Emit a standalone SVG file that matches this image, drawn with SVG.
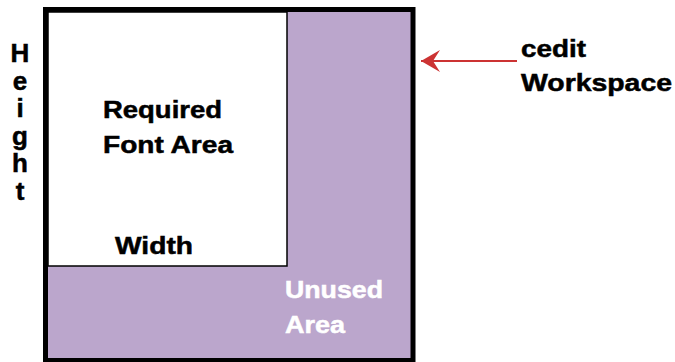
<svg xmlns="http://www.w3.org/2000/svg" width="675" height="362" viewBox="0 0 675 362">
  <defs>
    <style>
      .t { font-family: "Liberation Sans", Arial, sans-serif; font-weight: bold; font-size: 24px; stroke-width: 0.5px; }
      .v { font-size: 26px; }
      .blk { fill: #000; stroke: #000; }
      .wht { fill: #fff; stroke: #fff; }
    </style>
    <marker id="ah" viewBox="0 0 20 22" refX="19" refY="11" markerWidth="20" markerHeight="22" markerUnits="userSpaceOnUse" orient="auto">
      <path d="M19,11 L0,0 L7,11 L0,22 Z" fill="#cc3333"/>
    </marker>
  </defs>
  <rect width="675" height="362" fill="#fff"/>
  <g id="workspace">
    <rect x="45.5" y="9.5" width="367.5" height="351" fill="#bba6cc" stroke="#000" stroke-width="5"/>
  </g>
  <g id="font-area">
    <rect x="48" y="12" width="239" height="254" fill="#fff" stroke="#000" stroke-width="1.5"/>
    <text class="t blk" x="103" y="118" textLength="119" lengthAdjust="spacingAndGlyphs">Required</text>
    <text class="t blk" x="103" y="153" textLength="130" lengthAdjust="spacingAndGlyphs">Font Area</text>
    <text class="t blk" x="115" y="254" textLength="78" lengthAdjust="spacingAndGlyphs">Width</text>
  </g>
  <g id="unused">
    <text class="t wht" x="285" y="298" textLength="98" lengthAdjust="spacingAndGlyphs">Unused</text>
    <text class="t wht" x="285" y="333" textLength="60" lengthAdjust="spacingAndGlyphs">Area</text>
  </g>
  <g id="height-label">
    <text class="t v blk" text-anchor="middle" x="20" y="62">H</text>
    <text class="t v blk" text-anchor="middle" x="20" y="89.6">e</text>
    <text class="t v blk" text-anchor="middle" x="20" y="117.2">i</text>
    <text class="t v blk" text-anchor="middle" x="20" y="144.8">g</text>
    <text class="t v blk" text-anchor="middle" x="20" y="172.4">h</text>
    <text class="t v blk" text-anchor="middle" x="20" y="200">t</text>
  </g>
  <g id="cedit-label">
    <text class="t blk" x="521" y="57" textLength="65" lengthAdjust="spacingAndGlyphs">cedit</text>
    <text class="t blk" x="521" y="91" textLength="151" lengthAdjust="spacingAndGlyphs">Workspace</text>
  </g>
  <g id="connectors">
    <line x1="517" y1="61" x2="421" y2="61" stroke="#cc3333" stroke-width="2.2" marker-end="url(#ah)"/>
  </g>
</svg>
